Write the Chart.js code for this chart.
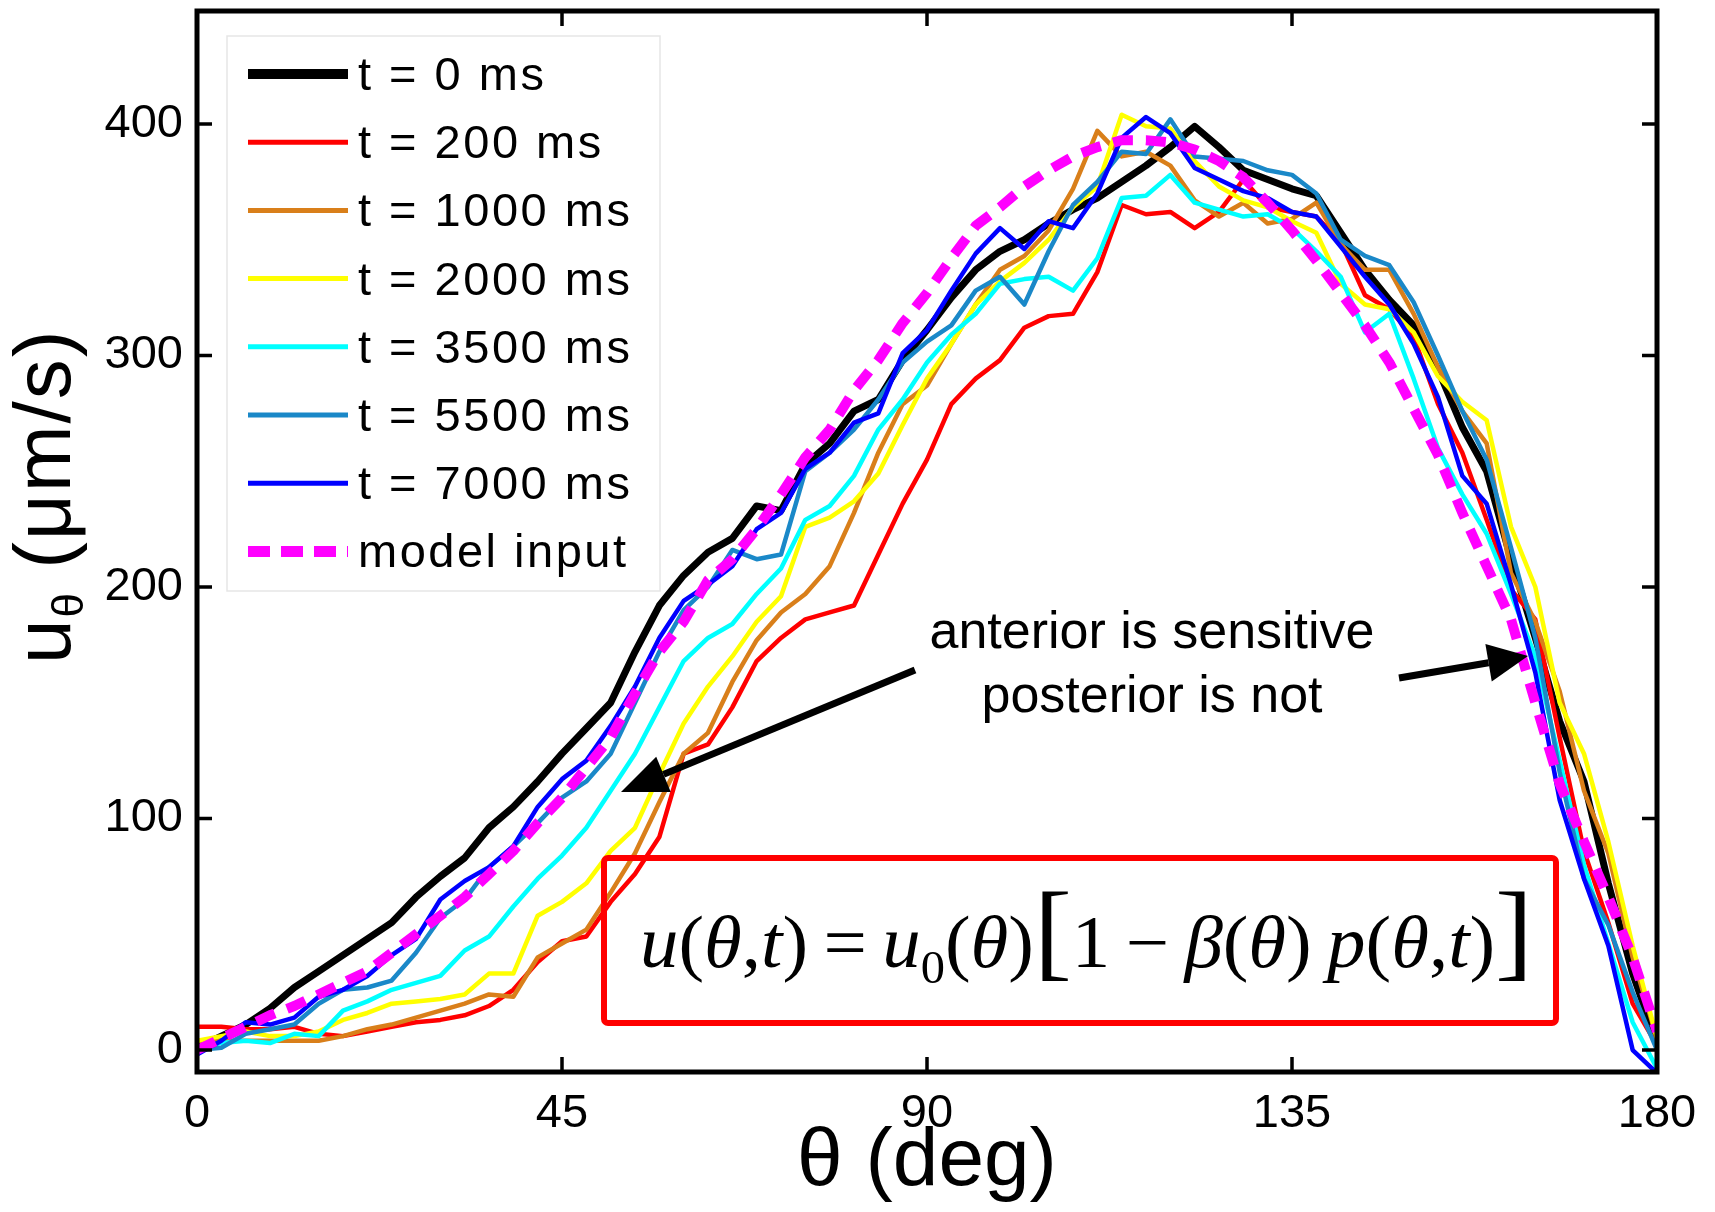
<!DOCTYPE html>
<html><head><meta charset="utf-8">
<script src="https://cdn.jsdelivr.net/npm/chart.js@4.4.0/dist/chart.umd.min.js"></script>
<style>html,body{margin:0;padding:0;background:#fff;}canvas{display:block;}</style>
</head><body>
<canvas id="c" width="1715" height="1212"></canvas>
<script>
// ---------- data ----------
const thetaDeg = [0,3,6,9,12,15,18,21,24,27,30,33,36,39,42,45,48,51,54,57,60,63,66,69,72,75,78,81,84,87,90,93,96,99,102,105,108,111,114,117,120,123,126,129,132,135,138,141,144,147,150,153,156,159,162,165,168,171,174,177,180];
const seriesLabels = ['t = 0 ms','t = 200 ms','t = 1000 ms','t = 2000 ms','t = 3500 ms','t = 5500 ms','t = 7000 ms','model input'];
const u_t0    = [1,6,11,18,27,34,41,48,55,66,75,83,96,105,116,128,139,150,172,192,205,215,221,235,233,253,262,276,281,298,311,325,337,345,350,357,363,368,375,382,390,399,390,380,376,372,369,353,337,324,313,294,269,250,212,178,142,116,72,33,3];
const u_t200  = [10,10,9,9,10,7,6,8,10,12,13,15,19,26,38,47,49,64,76,92,128,132,148,168,178,186,189,192,214,236,255,279,290,298,312,317,318,336,365,361,362,355,362,376,364,362,360,349,326,320,308,279,258,229,199,186,135,86,55,20,2];
const u_t1000 = [4,4,4,4,4,4,6,9,11,14,17,20,24,23,40,46,52,68,85,107,128,137,159,177,189,197,209,232,258,279,287,305,322,337,343,354,372,397,386,388,382,367,360,366,357,359,366,348,337,337,318,295,276,262,206,185,155,112,85,40,5];
const u_t2000 = [4,6,8,6,6,8,13,16,20,21,22,24,33,33,58,64,72,86,96,119,141,157,170,185,196,226,230,237,249,270,290,305,322,332,340,350,364,373,404,399,398,384,373,367,364,358,353,331,322,320,310,291,280,272,226,200,150,128,90,45,5];
const u_t3500 = [1,3,4,3,7,6,17,21,26,29,32,43,49,62,74,84,96,112,128,148,168,178,184,197,208,229,235,248,268,281,297,309,318,331,333,334,328,342,368,369,378,366,363,360,361,355,345,334,310,318,290,260,240,223,197,170,125,80,46,12,-8];
const u_t5500 = [0,1,7,9,11,20,26,27,30,42,57,65,79,88,98,109,116,128,150,172,190,200,216,212,214,250,258,268,281,297,306,313,328,334,322,345,365,375,388,387,402,386,385,384,380,378,370,350,343,339,323,300,276,255,217,178,120,74,54,25,0];
const u_t7000 = [-2,4,12,11,14,23,26,32,41,48,65,73,79,88,105,117,125,140,157,178,194,201,209,225,232,251,258,271,275,301,311,328,344,355,346,358,355,370,394,403,396,381,376,371,368,362,360,347,334,322,305,282,248,236,201,163,108,74,45,0,-10];
const u_model = [0,5,10,15,19,24,29,34,42,50,58,66,76,86,98,109,122,135,154,172,185,203,212,225,240,256,268,285,298,314,327,342,356,364,373,380,386,390,393,393,392,389,384,377,366,354,341,327,313,297,277,257,232,209,186,150,115,90,66,40,8];
const xTicks = [0,45,90,135,180];
const yTicks = [0,100,200,300,400];

// ---------- styles ----------
const seriesValues = [u_t0,u_t200,u_t1000,u_t2000,u_t3500,u_t5500,u_t7000,u_model];
const colors = ['#000000','#ff0000','#d97f1a','#ffff00','#00ffff','#1a88c8','#0000ff','#ff00ff'];
const widths = [7,4.5,4.5,4.5,4.5,4.5,4.5,10];
const legendWidths = [10,5,5,5,5,5,5,11];
const dashes = [[],[],[],[],[],[],[],[20,13]];

const datasets = seriesValues.map((vals,i)=>({
  label: seriesLabels[i],
  data: thetaDeg.map((x,j)=>({x:x,y:vals[j]})),
  borderColor: colors[i],
  backgroundColor: colors[i],
  borderWidth: widths[i],
  borderDash: dashes[i],
  borderJoinStyle: 'round',
  borderCapStyle: i===7 ? 'butt' : 'round',
  pointRadius: 0,
  fill: false,
  tension: 0,
  order: 7-i
}));

const SANS = '"Liberation Sans", Arial, sans-serif';
const SERIF = '"Liberation Serif", "Times New Roman", serif';

const decor = {
  id: 'decor',
  afterDraw(chart){
    const ctx = chart.ctx, ca = chart.chartArea;
    const xs = chart.scales.x, ys = chart.scales.y;
    ctx.save();
    // frame
    ctx.strokeStyle = '#000'; ctx.lineWidth = 5;
    ctx.strokeRect(ca.left, ca.top, ca.right-ca.left, ca.bottom-ca.top);
    // inward ticks on all sides
    ctx.lineWidth = 3.5; ctx.beginPath();
    xTicks.forEach(v=>{const p=xs.getPixelForValue(v);
      ctx.moveTo(p,ca.bottom); ctx.lineTo(p,ca.bottom-15);
      ctx.moveTo(p,ca.top); ctx.lineTo(p,ca.top+15);});
    yTicks.forEach(v=>{const p=ys.getPixelForValue(v);
      ctx.moveTo(ca.left,p); ctx.lineTo(ca.left+15,p);
      ctx.moveTo(ca.right,p); ctx.lineTo(ca.right-15,p);});
    ctx.stroke();

    // y-axis title with subscript
    ctx.save();
    ctx.translate(70, 664); ctx.rotate(-Math.PI/2);
    ctx.fillStyle = '#000'; ctx.textBaseline = 'alphabetic'; ctx.textAlign = 'left';
    ctx.font = '80px ' + SANS; ctx.fillText('u', 0, 0);
    let w = ctx.measureText('u').width;
    ctx.font = '44px ' + SANS; ctx.fillText('θ', w + 2, 13);
    w += ctx.measureText('θ').width + 2;
    ctx.font = '80px ' + SANS; ctx.letterSpacing = '2px'; ctx.fillText(' (μm/s)', w, 0);
    ctx.restore();

    // legend
    const lx = ca.left + 30, ly = ca.top + 25, lw = 433, lh = 555;
    ctx.fillStyle = '#fff'; ctx.fillRect(lx, ly, lw, lh);
    ctx.strokeStyle = '#e6e6e6'; ctx.lineWidth = 1.5; ctx.strokeRect(lx, ly, lw, lh);
    chart.data.datasets.forEach((ds,i)=>{
      const y = ly + 38 + i*68.2;
      ctx.strokeStyle = ds.borderColor; ctx.lineWidth = legendWidths[i];
      ctx.setLineDash(i===7 ? [22,11] : []);
      ctx.lineCap = 'butt';
      ctx.beginPath(); ctx.moveTo(lx+21, y); ctx.lineTo(lx+121, y); ctx.stroke();
      ctx.setLineDash([]);
      ctx.fillStyle = '#000'; ctx.font = '47px ' + SANS; ctx.letterSpacing = '2.5px';
      ctx.textBaseline = 'middle'; ctx.textAlign = 'left';
      ctx.fillText(ds.label, lx+131, y+3);
    });
    ctx.letterSpacing = '0px';

    // annotation text
    ctx.fillStyle = '#000'; ctx.font = '52px ' + SANS; ctx.textAlign = 'center'; ctx.textBaseline = 'alphabetic';
    ctx.fillText('anterior is sensitive', 1152, 648);
    ctx.fillText('posterior is not', 1152, 712);

    // arrows
    function arrow(x0,y0,x1,y1,hl,hw){
      const a = Math.atan2(y1-y0, x1-x0);
      const bx = x1 - hl*Math.cos(a), by = y1 - hl*Math.sin(a);
      ctx.strokeStyle = '#000'; ctx.lineWidth = 7; ctx.lineCap = 'butt';
      ctx.beginPath(); ctx.moveTo(x0,y0); ctx.lineTo(bx,by); ctx.stroke();
      ctx.fillStyle = '#000'; ctx.beginPath();
      ctx.moveTo(x1,y1);
      ctx.lineTo(bx + hw*Math.sin(a), by - hw*Math.cos(a));
      ctx.lineTo(bx - hw*Math.sin(a), by + hw*Math.cos(a));
      ctx.closePath(); ctx.fill();
    }
    arrow(915, 670, 621, 792, 46, 19);
    arrow(1399, 678, 1528, 656, 40, 19);

    // equation box
    ctx.strokeStyle = '#ff0000'; ctx.lineWidth = 6;
    ctx.beginPath(); ctx.roundRect(604, 858, 952, 165, 4); ctx.stroke();

    // equation
    const parts = [['u','i'],['(','r'],['θ','i'],[',','r'],['t','i'],[')','r'],['\u2009=\u2009','r'],['u','i'],['0','s'],['(','r'],['θ','i'],[')','r'],['[','b'],['1','r'],['\u2009\u2212\u2009','r'],['β','i'],['(','r'],['θ','i'],[')','r'],['\u2009','r'],['p','i'],['(','r'],['θ','i'],[',','r'],['t','i'],[')','r'],[']','b']];
    const fonts = {i:'italic 73px '+SERIF, r:'73px '+SERIF, s:'46px '+SERIF, b:'108px '+SERIF};
    let total = 0;
    parts.forEach(p=>{ctx.font = fonts[p[1]]; total += ctx.measureText(p[0]).width;});
    const sx = 893/total;
    ctx.save(); ctx.translate(640, 967); ctx.scale(sx, 1);
    ctx.fillStyle = '#000'; ctx.textAlign = 'left'; ctx.textBaseline = 'alphabetic';
    let cx = 0;
    parts.forEach(p=>{ctx.font = fonts[p[1]]; ctx.fillText(p[0], cx, p[1]==='s' ? 16 : 0); cx += ctx.measureText(p[0]).width;});
    ctx.restore();
    ctx.restore();
  }
};

new Chart(document.getElementById('c'), {
  type: 'line',
  data: {datasets: datasets},
  options: {
    responsive: false, animation: false,
    layout: {padding: {left: 0, right: 58, top: 11, bottom: 0}},
    plugins: {legend: {display: false}, tooltip: {enabled: false}},
    scales: {
      x: {type: 'linear', min: 0, max: 180,
          grid: {display: false, drawTicks: false}, border: {display: false},
          afterBuildTicks: ax => { ax.ticks = xTicks.map(v=>({value:v})); },
          afterFit: ax => { ax.height = 140; ax.paddingLeft = 0; ax.paddingRight = 0; },
          ticks: {font: {family: SANS, size: 47}, color: '#000', padding: 14, maxRotation: 0},
          title: {display: true, text: 'θ (deg)', font: {family: SANS, size: 82}, color: '#000', padding: {top: 0, bottom: 0}}
      },
      y: {type: 'linear', min: -9.5, max: 448.8,
          grid: {display: false, drawTicks: false}, border: {display: false},
          afterBuildTicks: ax => { ax.ticks = yTicks.map(v=>({value:v})); },
          afterFit: ax => { ax.width = 197; ax.paddingTop = 0; ax.paddingBottom = 0; },
          ticks: {font: {family: SANS, size: 47}, color: '#000', padding: 14}
      }
    }
  },
  plugins: [decor]
});
</script>
</body></html>
